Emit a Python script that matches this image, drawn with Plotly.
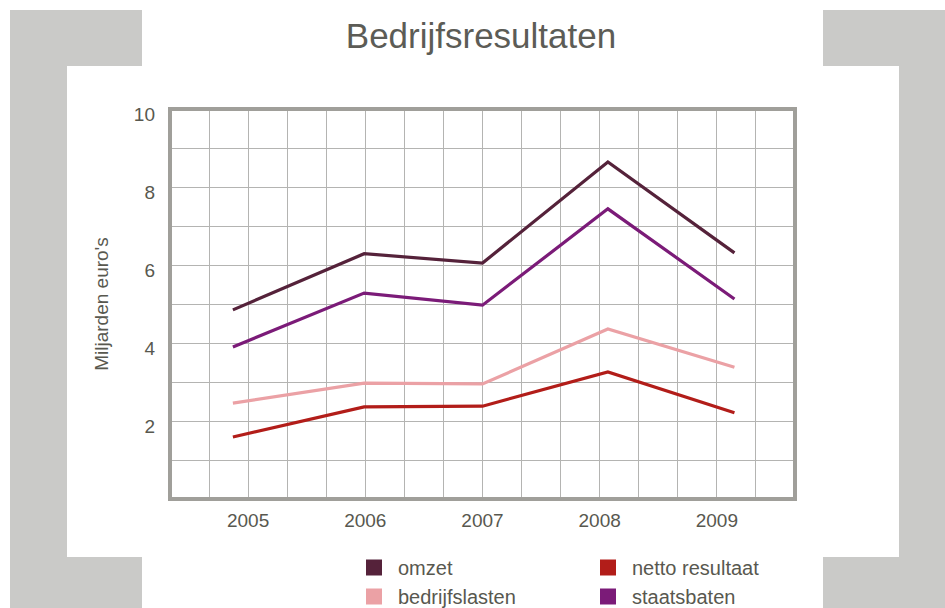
import plotly.graph_objects as go

# ---- data -------------------------------------------------------------
years = [2005, 2006, 2007, 2008, 2009]
# horizontal positions of the points as drawn (in years)
point_x = [2004.87, 2005.99, 2007.0, 2008.07, 2009.15]

omzet = [4.85, 6.29, 6.05, 8.64, 6.31]
staatsbaten = [3.90, 5.28, 4.97, 7.44, 5.13]
bedrijfslasten = [2.46, 2.97, 2.95, 4.36, 3.38]
netto_resultaat = [1.59, 2.36, 2.38, 3.26, 2.21]

y_ticks = [2, 4, 6, 8, 10]
x_tick_labels = ["2005", "2006", "2007", "2008", "2009"]

series_names = ["omzet", "netto resultaat", "bedrijfslasten", "staatsbaten"]
series_values = [omzet, netto_resultaat, bedrijfslasten, staatsbaten]
series_colors = ["#55223a", "#b21d19", "#eba1a5", "#7b1b78"]
legend_ids = ["legend", "legend2", "legend", "legend2"]

TEXT = "#58584f"
FONT = "Liberation Sans, Arial, sans-serif"

W, H = 945, 608
PL, PR, PT, PB = 170, 795, 109, 499  # plot area in screen pixels
ML, MT = PL, PT
PW, PH = PR - PL, PB - PT
MR, MB = W - ML - PW, H - MT - PH


def px_x(px):
    return (px - PL) / PW


def px_y(py):
    return (PB - py) / PH


fig = go.Figure()

for name, vals, col in zip(series_names, series_values, series_colors):
    fig.add_trace(go.Scatter(
        x=point_x, y=vals, mode="lines", name=name,
        line=dict(color=col, width=3.2), showlegend=False,
        hoverinfo="skip"))

for name, col, lg in zip(series_names, series_colors, legend_ids):
    fig.add_trace(go.Scatter(
        x=[None], y=[None], mode="markers", name=name,
        marker=dict(symbol="square", size=18, color=col),
        legend=lg, legendgroup=name, showlegend=True))

# grey frame pieces in the background (screen pixels)
grey = "#cacac8"
rects = [
    (10, 10, 142, 66), (10, 66, 67, 557), (10, 557, 142, 620),
    (823, 10, 960, 66), (899, 66, 960, 557), (823, 557, 960, 620),
]
shapes = []
for x0, y0, x1, y1 in rects:
    shapes.append(dict(type="rect", xref="paper", yref="paper",
                       x0=px_x(x0), x1=px_x(x1), y0=px_y(y1), y1=px_y(y0),
                       fillcolor=grey, line=dict(width=0), layer="below"))
shapes.append(dict(type="rect", xref="paper", yref="paper",
                   x0=0, x1=1, y0=0, y1=1,
                   line=dict(color="#a09f9a", width=4), layer="above"))

x0_axis = 2006 - 5 / 3
GRID = "#b4b4b2"
legend_common = dict(xanchor="left", yanchor="top", orientation="v",
                     font=dict(size=20, color=TEXT), itemwidth=38,
                     bgcolor="rgba(0,0,0,0)", tracegroupgap=0)
fig.update_layout(
    width=W, height=H,
    margin=dict(l=ML, r=MR, t=MT, b=MB, autoexpand=False),
    paper_bgcolor="white", plot_bgcolor="white",
    font=dict(family=FONT, color=TEXT, size=19),
    title=dict(text="Bedrijfsresultaten", x=px_x(481), xref="paper",
               xanchor="center", yref="container", y=1 - 36 / H,
               yanchor="middle",
               font=dict(size=35, color="#5c5c56", family=FONT)),
    shapes=shapes,
    xaxis=dict(range=[x0_axis, x0_axis + 16 / 3], tickvals=years,
               ticktext=x_tick_labels, showgrid=True, gridcolor=GRID,
               gridwidth=1, zeroline=False, showline=False, ticks="",
               ticklabelstandoff=8,
               minor=dict(tick0=x0_axis, dtick=1 / 3, showgrid=True,
                          gridcolor=GRID, gridwidth=1, ticks=""),
               fixedrange=True),
    yaxis=dict(range=[0, 10], tickvals=y_ticks, showgrid=True,
               gridcolor=GRID, gridwidth=1, zeroline=False,
               showline=False, ticks="", ticklabelstandoff=14,
               ticklabelshift=5,
               title=dict(text="Miljarden euro's", standoff=20,
                          font=dict(size=19, color=TEXT)),
               minor=dict(dtick=1, showgrid=True, gridcolor=GRID,
                          gridwidth=1, ticks=""),
               fixedrange=True),
    legend=dict(x=px_x(350), y=px_y(548), **legend_common),
    legend2=dict(x=px_x(584), y=px_y(548), **legend_common),
)

fig.write_html(
    "out.html",
    config={"displayModeBar": False},
    post_script="document.body.style.margin='0';"
                "document.body.style.overflow='hidden';",
)
